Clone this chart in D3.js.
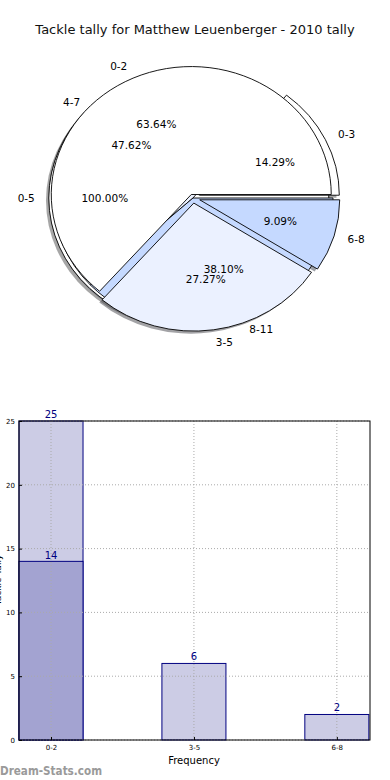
<!DOCTYPE html>
<html>
<head>
<meta charset="utf-8">
<script src="https://d3js.org/d3.v7.min.js"></script>
<style>
body { margin: 0; background: #fff; }
text { font-family: "DejaVu Sans", sans-serif; }
</style>
</head>
<body>
<svg id="chart" width="390" height="780"></svg>
<script>
// pie data (three pies drawn over each other)
var pie1Labels = ["0-2", "3-5", "6-8"];
var pie1Values = [14, 6, 2];
var pie2Labels = ["0-3", "4-7", "8-11"];
var pie2Values = [3, 10, 8];
var pie3Labels = ["0-5"];
var pie3Values = [21];

// bar data
var barCats = ["0-2", "3-5", "6-8"];
var barTotals = [25, 6, 2];
var barInner = [14, null, null];
var yTicks = [0, 5, 10, 15, 20, 25];

var svg = d3.select("#chart");

svg.append("text")
  .attr("x", 195).attr("y", 34)
  .attr("text-anchor", "middle")
  .attr("font-size", "13px")
  .attr("fill", "#111")
  .text("Tackle tally for Matthew Leuenberger - 2010 tally");

/********** pies **********/
var cx = 193, cy = 198, rx = 140, ry = 128;
var pieColors = ["#ffffff", "#ebf1ff", "#c5d9ff"];

var pies = [
  { labels: pie3Labels, values: pie3Values, explode: [0.03] },
  { labels: pie2Labels, values: pie2Values, explode: [0.05, 0, 0] },
  { labels: pie1Labels, values: pie1Values, explode: [0.03, 0.04, 0.05] }
];

// matplotlib style: start at 3 o'clock, counter clockwise
var pieGen = d3.pie().sort(null)
  .startAngle(Math.PI / 2)
  .endAngle(Math.PI / 2 - 2 * Math.PI);
var arc = d3.arc().innerRadius(0).outerRadius(1);

pies.forEach(function(p) {
  p.arcs = pieGen(p.values).map(function(a, i) {
    var mid = (a.startAngle + a.endAngle) / 2;
    var e = p.explode[i] || 0;
    a.dx = Math.sin(mid); a.dy = -Math.cos(mid);
    a.ox = e * rx * a.dx; a.oy = e * ry * a.dy;
    a.e = e;
    a.color = pieColors[i % pieColors.length];
    a.label = p.labels[i];
    return a;
  });
});

var pieG = svg.append("g");

// shadows under everything
pies.forEach(function(p) {
  p.arcs.forEach(function(a) {
    var c = d3.rgb(a.color);
    pieG.append("path")
      .attr("transform", "translate(" + (cx + a.ox - 0.02 * rx) + "," + (cy + a.oy + 0.02 * ry) + ") scale(" + rx + "," + ry + ")")
      .attr("d", arc(a))
      .attr("fill", d3.rgb(c.r * 0.3, c.g * 0.3, c.b * 0.3))
      .attr("fill-opacity", 0.5);
  });
});

pies.forEach(function(p) {
  p.arcs.forEach(function(a) {
    pieG.append("path")
      .attr("transform", "translate(" + (cx + a.ox) + "," + (cy + a.oy) + ") scale(" + rx + "," + ry + ")")
      .attr("d", arc(a))
      .attr("fill", a.color)
      .attr("stroke", "#000")
      .attr("stroke-width", 0.9)
      .attr("vector-effect", "non-scaling-stroke");
  });
});

var total;
pies.forEach(function(p) {
  total = d3.sum(p.values);
  p.arcs.forEach(function(a) {
    var d = 1.1 + a.e;
    pieG.append("text")
      .attr("x", cx + d * rx * a.dx)
      .attr("y", cy + d * ry * a.dy)
      .attr("dy", "0.35em")
      .attr("text-anchor", a.dx > 0.001 ? "start" : "end")
      .attr("font-size", "10.5px")
      .text(a.label);
    var pd = 0.6 + a.e;
    pieG.append("text")
      .attr("x", cx + pd * rx * a.dx)
      .attr("y", cy + pd * ry * a.dy)
      .attr("dy", "0.35em")
      .attr("text-anchor", "middle")
      .attr("font-size", "10.5px")
      .text((a.value / total * 100).toFixed(2) + "%");
  });
});

/********** bar chart **********/
var bLeft = 19, bRight = 370, bTop = 421, bBottom = 740;
var x = d3.scaleLinear().domain([-0.224, 2.232]).range([bLeft, bRight]);
var y = d3.scaleLinear().domain([0, 25]).range([bBottom, bTop]);
var bw = 0.448;

var barG = svg.append("g");

barG.selectAll(".bar").data(barTotals).enter().append("rect")
  .attr("x", function(d, i) { return x(i - bw / 2); })
  .attr("y", function(d) { return y(d); })
  .attr("width", function(d, i) { return x(i + bw / 2) - x(i - bw / 2); })
  .attr("height", function(d) { return y(0) - y(d); })
  .attr("fill", "#ccccE5")
  .attr("stroke", "#000080")
  .attr("stroke-width", 1);

var innerData = barInner.map(function(v, i) { return { v: v, i: i }; }).filter(function(d) { return d.v != null; });

barG.selectAll(".inner").data(innerData)
  .enter().append("rect")
  .attr("x", function(d) { return x(d.i - bw / 2); })
  .attr("y", function(d) { return y(d.v); })
  .attr("width", function(d) { return x(d.i + bw / 2) - x(d.i - bw / 2); })
  .attr("height", function(d) { return y(0) - y(d.v); })
  .attr("fill", "#a3a3d1")
  .attr("stroke", "#000080")
  .attr("stroke-width", 1);

// grid on top of bars
barG.selectAll(".hgrid").data(yTicks).enter().append("line")
  .attr("x1", bLeft).attr("x2", bRight)
  .attr("y1", function(d) { return y(d); }).attr("y2", function(d) { return y(d); })
  .attr("stroke", "#aaa").attr("stroke-dasharray", "1,2");
barG.selectAll(".vgrid").data(barCats).enter().append("line")
  .attr("x1", function(d, i) { return x(i); }).attr("x2", function(d, i) { return x(i); })
  .attr("y1", bTop).attr("y2", bBottom)
  .attr("stroke", "#aaa").attr("stroke-dasharray", "1,2");

barG.append("rect")
  .attr("x", bLeft).attr("y", bTop)
  .attr("width", bRight - bLeft).attr("height", bBottom - bTop)
  .attr("fill", "none").attr("stroke", "#000").attr("stroke-width", 1);

var yAxis = d3.axisLeft(y).tickValues(yTicks).tickSize(-3).tickPadding(4);
barG.append("g").attr("transform", "translate(" + bLeft + ",0)").call(yAxis)
  .call(function(g) { g.select(".domain").remove(); })
  .selectAll("text").attr("font-size", "7px").attr("font-family", "DejaVu Sans");

var xAxis = d3.axisBottom(x).tickValues([0, 1, 2]).tickFormat(function(d) { return barCats[d]; }).tickSize(-3).tickPadding(5);
barG.append("g").attr("transform", "translate(0," + bBottom + ")").call(xAxis)
  .call(function(g) { g.select(".domain").remove(); })
  .selectAll("text").attr("font-size", "7px").attr("font-family", "DejaVu Sans");

// value labels
barG.selectAll(".val").data(barTotals).enter().append("text")
  .attr("x", function(d, i) { return x(i); })
  .attr("y", function(d) { return y(d) - 3; })
  .attr("text-anchor", "middle")
  .attr("font-size", "10px")
  .attr("fill", "#000080")
  .text(function(d) { return d; });
barG.selectAll(".ival").data(innerData)
  .enter().append("text")
  .attr("x", function(d) { return x(d.i); })
  .attr("y", function(d) { return y(d.v) - 2; })
  .attr("text-anchor", "middle")
  .attr("font-size", "10px")
  .attr("fill", "#000080")
  .text(function(d) { return d.v; });

barG.append("text")
  .attr("x", 194).attr("y", 764)
  .attr("text-anchor", "middle")
  .attr("font-size", "10px")
  .text("Frequency");

// y label sits mostly outside the left edge, as in the original
barG.append("text")
  .attr("transform", "translate(1,580) rotate(-90)")
  .attr("text-anchor", "middle")
  .attr("font-size", "9px")
  .text("Tackle Tally");

svg.append("text")
  .attr("x", 0).attr("y", 775)
  .attr("font-family", "Open Sans")
  .attr("font-weight", 600)
  .attr("font-size", "13px")
  .attr("textLength", 102)
  .attr("lengthAdjust", "spacingAndGlyphs")
  .attr("fill", "#9a9a9a")
  .text("Dream-Stats.com");
</script>
</body>
</html>
